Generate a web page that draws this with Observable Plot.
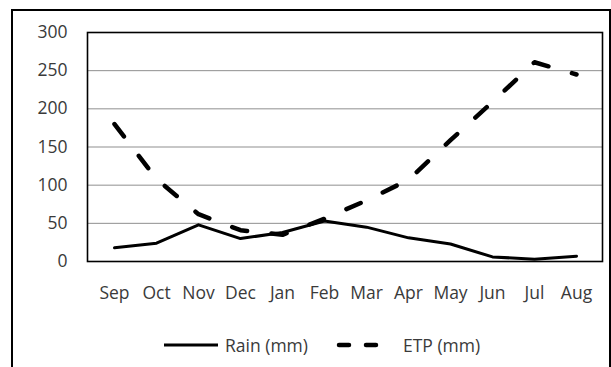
<!DOCTYPE html>
<html>
<head>
<meta charset="utf-8">
<script src="https://cdn.jsdelivr.net/npm/d3@7"></script>
<script src="https://cdn.jsdelivr.net/npm/@observablehq/plot@0.6"></script>
<style>
  html, body { margin: 0; padding: 0; background: #fff; }
  #wrap { position: relative; width: 611px; height: 367px; overflow: hidden; font-family: "Open Sans", sans-serif; }
  #border { position: absolute; left: 11px; top: 9px; width: 600px; height: 400px; box-sizing: border-box; border: 2px solid #000; border-bottom: none; }
  #chart { position: absolute; left: 0; top: 0; }
  #legend { position: absolute; left: 0; top: 318px; width: 611px; height: 49px; color: #3a3a3a; font-size: 17.5px; }
  .item { position: absolute; top: 16px; display: flex; align-items: center; height: 22px; }
  .item svg { display: block; }
</style>
</head>
<body>
<div id="wrap">
  <div id="border"></div>
  <div id="chart"></div>
  <div id="legend"></div>
</div>
<script>
const months = ["Sep","Oct","Nov","Dec","Jan","Feb","Mar","Apr","May","Jun","Jul","Aug"];
const rain = [18, 24, 48, 30, 38, 53, 45, 31, 23, 6, 3, 7];
const etp = [180, 108, 62, 41, 35, 56, 80, 107, 159, 209, 261, 245];
const yTicks = [0, 50, 100, 150, 200, 250, 300];
const seriesNames = ["Rain (mm)", "ETP (mm)"];

const rainData = months.map((m, i) => ({month: m, value: rain[i]}));
const etpData = months.map((m, i) => ({month: m, value: etp[i]}));

const chart = Plot.plot({
  width: 611,
  height: 318,
  marginLeft: 87,
  marginRight: 9,
  marginTop: 32,
  marginBottom: 57,
  style: {fontFamily: "'Open Sans', sans-serif", fontSize: "17.5px", color: "#3a3a3a", background: "transparent"},
  x: {type: "point", domain: months, padding: 0.5, label: null},
  y: {domain: [0, 300], label: null},
  marks: [
    Plot.gridY(yTicks.slice(1, -1), {stroke: "#8f8f8f", strokeOpacity: 1, strokeWidth: 1}),
    Plot.frame({stroke: "#000", strokeWidth: 1.6}),
    Plot.axisY(yTicks, {tickSize: 0, tickPadding: 20, label: null, fill: "#3a3a3a"}),
    Plot.axisX({tickSize: 0, tickPadding: 25.5, label: null, fill: "#3a3a3a"}),
    Plot.line(rainData, {x: "month", y: "value", stroke: "#000", strokeWidth: 3, strokeLinejoin: "round", strokeLinecap: "round"}),
    Plot.line(etpData, {x: "month", y: "value", stroke: "#000", strokeWidth: 4.5, strokeDasharray: "15.5,24.5", strokeLinecap: "round", strokeLinejoin: "round"})
  ]
});
document.getElementById("chart").appendChild(chart);

// legend
const legend = document.getElementById("legend");
const items = [
  {name: seriesNames[0], left: 163, dash: null, w: 3, textGap: 7},
  {name: seriesNames[1], left: 334, dash: "10,17", w: 4.5, textGap: 14}
];
for (const it of items) {
  const div = document.createElement("div");
  div.className = "item";
  div.style.left = it.left + "px";
  const ns = "http://www.w3.org/2000/svg";
  const svg = document.createElementNS(ns, "svg");
  svg.setAttribute("width", 55);
  svg.setAttribute("height", 22);
  const line = document.createElementNS(ns, "line");
  line.setAttribute("x1", it.dash ? 5 : 1);
  line.setAttribute("x2", it.dash ? 50 : 55);
  line.setAttribute("y1", 11);
  line.setAttribute("y2", 11);
  line.setAttribute("stroke", "#000");
  line.setAttribute("stroke-width", it.w);
  line.setAttribute("stroke-linecap", it.dash ? "round" : "butt");
  if (it.dash) line.setAttribute("stroke-dasharray", it.dash);
  svg.appendChild(line);
  const span = document.createElement("span");
  span.textContent = it.name;
  span.style.marginLeft = it.textGap + "px";
  div.appendChild(svg);
  div.appendChild(span);
  legend.appendChild(div);
}
</script>
</body>
</html>
